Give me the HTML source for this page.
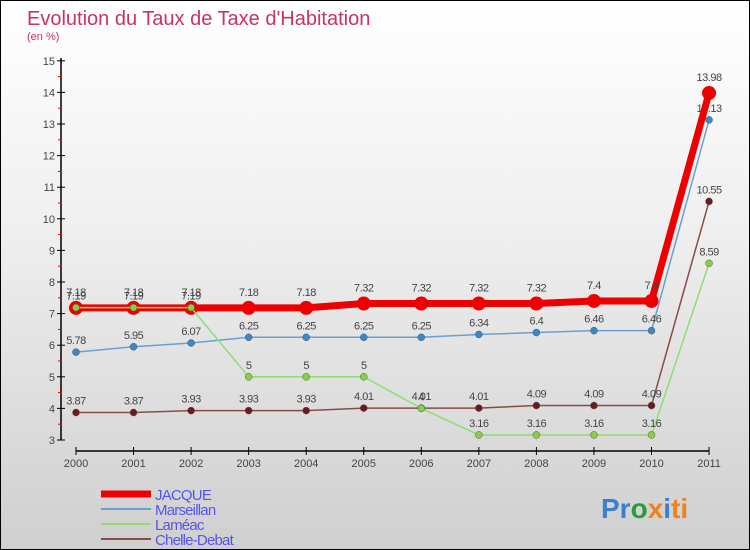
<!DOCTYPE html>
<html><head><meta charset="utf-8"><style>
body{margin:0}
#c{width:750px;height:550px;position:relative;box-sizing:border-box;border:1px solid #000;background:linear-gradient(#ffffff,#f0f0f0 40%,#cfcfcf);font-family:"Liberation Sans",sans-serif;overflow:hidden}
</style></head><body>
<div id="c">
<svg id="s" width="750" height="550" style="position:absolute;left:0;top:0">
<text x="26" y="24" font-size="20" fill="#c8336a">Evolution du Taux de Taxe d'Habitation</text>
<text x="26" y="39" font-size="11" fill="#c8336a">(en %)</text>
<g id="g"></g>
<text x="600" y="517" font-size="28" font-weight="bold"><tspan fill="#3a7fd0">Pr</tspan><tspan fill="#2a9a3a">o</tspan><tspan fill="#f08020">x</tspan><tspan fill="#3a7fd0">i</tspan><tspan fill="#f08020">ti</tspan></text>
</svg>
</div>
<script>
const years=[2000,2001,2002,2003,2004,2005,2006,2007,2008,2009,2010,2011];
const yTicks=[3,4,5,6,7,8,9,10,11,12,13,14,15];
const jacque=[7.18,7.18,7.18,7.18,7.18,7.32,7.32,7.32,7.32,7.4,7.4,13.98];
const marseillan=[5.78,5.95,6.07,6.25,6.25,6.25,6.25,6.34,6.4,6.46,6.46,13.13];
const lameac=[7.19,7.19,7.19,5,5,5,4,3.16,3.16,3.16,3.16,8.59];
const chelle=[3.87,3.87,3.93,3.93,3.93,4.01,4.01,4.01,4.09,4.09,4.09,10.55];
const names=["JACQUE","Marseillan","Laméac","Chelle-Debat"];
const NS="http://www.w3.org/2000/svg";
const g=document.getElementById('g');
const X=i=>75+i*57.55, Y=v=>439-(v-3)*31.6;
function el(t,a,p){const e=document.createElementNS(NS,t);for(const k in a)e.setAttribute(k,a[k]);(p||g).appendChild(e);return e;}
let ax=el('line',{x1:60,y1:57,x2:60,y2:439,stroke:'#000','stroke-width':1.5});

let bx=el('line',{x1:75,y1:450,x2:708,y2:450,stroke:'#000','stroke-width':1.5});

yTicks.forEach(v=>{el('line',{x1:56,y1:Y(v),x2:64,y2:Y(v),stroke:'#000'});
 if(v<15)el('line',{x1:57,y1:Y(v+0.5),x2:61,y2:Y(v+0.5),stroke:'#e00'});
 const t=el('text',{x:54,y:Y(v)+4,'text-anchor':'end','font-size':11,fill:'#444'});t.textContent=v;
 });
years.forEach((y,i)=>{el('line',{x1:X(i),y1:446,x2:X(i),y2:454,stroke:'#000'});
 const t=el('text',{x:X(i),y:466,'text-anchor':'middle','font-size':11,fill:'#444'});t.textContent=y;
 });
const series=[[jacque,'#ee0000',7,7,'#ee0000'],[marseillan,'#6aa0d0',1.5,3.5,'#3a88c8'],[lameac,'#90dd70',1.5,3.5,'#88d040'],[chelle,'#8a4a4a',1.5,3.5,'#6a1a20']];
const order=[1,3,0,2];
order.forEach(si=>{const [d,c,w,r,mc]=series[si];
 const p=el('polyline',{points:d.map((v,i)=>X(i)+','+Y(v)).join(' '),fill:'none',stroke:c,'stroke-width':w,'stroke-linejoin':'round'});
 
 d.forEach((v,i)=>{const m=el('circle',{cx:X(i),cy:Y(v),r:r,fill:mc,stroke:si?'#555':'none','stroke-width':0.5});
  
  const t=el('text',{x:X(i),y:Y(v)-(si==0?12:8),'text-anchor':'middle','font-size':11,fill:'#444',style:'letter-spacing:-0.5px'});t.textContent=v;
  });});
names.forEach((n,i)=>{const y=493+i*15;const [d,c,w]=series[i];
 el('line',{x1:100,y1:y,x2:150,y2:y,stroke:c,'stroke-width':i?2:7});
 const t=el('text',{x:154,y:y+6,'font-size':15,fill:'#5555ee',style:'letter-spacing:-0.8px'});t.textContent=n;
 });
</script>
</body></html>
